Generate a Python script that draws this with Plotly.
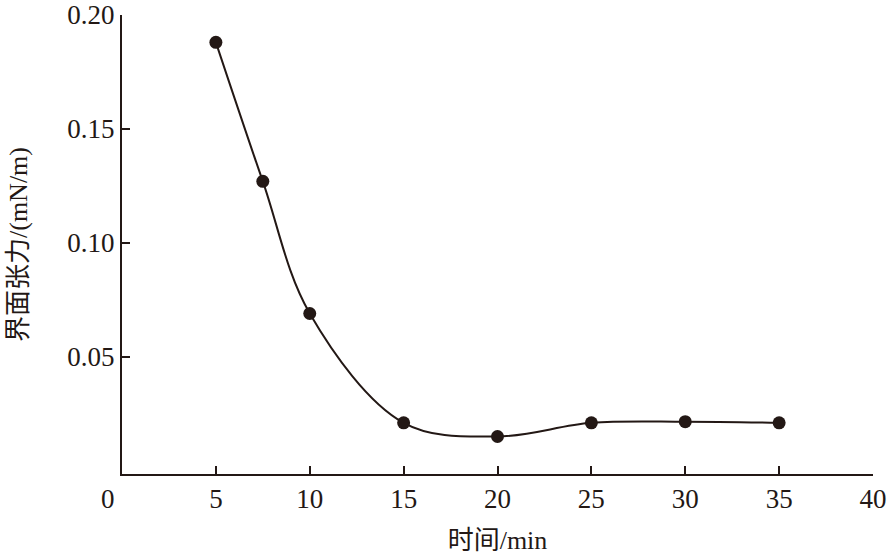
import plotly.graph_objects as go

time_min = [5, 7.5, 10, 15, 20, 25, 30, 35]
tension = [0.188, 0.127, 0.069, 0.021, 0.015, 0.021, 0.0215, 0.021]
x_tick_vals = [5, 10, 15, 20, 25, 30, 35, 40]
y_tick_vals = [0.05, 0.10, 0.15, 0.20]
y_tick_text = ["0.05", "0.10", "0.15", "0.20"]

INK = "#231815"
FONT = "Liberation Serif, Times New Roman, Noto Sans CJK SC, serif"

fig = go.Figure()
fig.add_trace(go.Scatter(
    x=time_min, y=tension, mode="lines+markers",
    line=dict(color=INK, width=2, shape="spline", smoothing=1.0),
    marker=dict(color=INK, size=13),
    showlegend=False,
))

fig.update_layout(
    width=893, height=557,
    margin=dict(l=122, r=20, t=15, b=83, autoexpand=False),
    paper_bgcolor="white", plot_bgcolor="white",
    font=dict(family=FONT, size=27, color=INK),
    xaxis=dict(
        range=[0, 40], tickvals=x_tick_vals, ticks="inside", ticklen=8,
        tickwidth=2, tickcolor=INK, showline=True, linecolor=INK, linewidth=2,
        showgrid=False, zeroline=False, automargin=False,
        title=dict(text="时间/min", font=dict(size=26), standoff=17),
    ),
    yaxis=dict(
        range=[-0.00145, 0.2], tickvals=y_tick_vals, ticktext=y_tick_text,
        ticks="inside", ticklen=8, tickwidth=2, tickcolor=INK,
        showline=True, linecolor=INK, linewidth=2,
        showgrid=False, zeroline=False, automargin=False,
        title=dict(text="界面张力/(mN/m)", font=dict(size=26), standoff=32),
    ),
    annotations=[dict(
        x=0, y=0, xref="x", yref="paper", text="0", showarrow=False,
        xanchor="center", yanchor="top", xshift=-14, yshift=-8,
        font=dict(family=FONT, size=27, color=INK),
    )],
)

fig.write_html("out.html", config={"displayModeBar": False},
               post_script="document.body.style.margin='0';")
